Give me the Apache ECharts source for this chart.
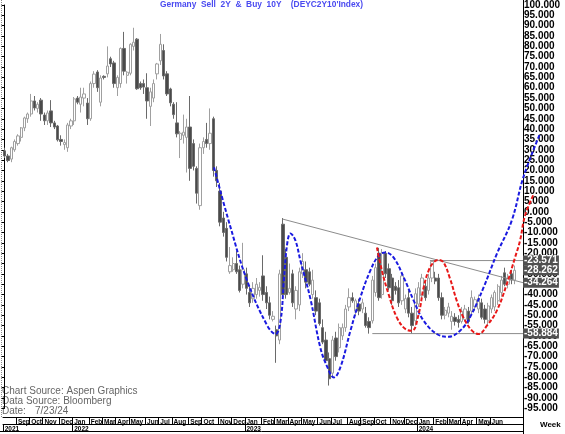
<!DOCTYPE html>
<html>
<head>
<meta charset="utf-8">
<script src="https://cdn.jsdelivr.net/npm/echarts@6/dist/echarts.min.js"></script>
<style>
html,body{margin:0;padding:0;background:#fff}
#chart{width:565px;height:434px}
</style>
</head>
<body>
<div id="chart"></div>
<script>
// weekly bars, first week = week of 9 Aug 2021, two empty weeks at the end
const firstWeek = Date.UTC(2021, 7, 9)
const weekCount = 157

// [open, high, low, close]
const candles = [
[29.5,31,26,27],[27,28,24,24.8],[25.5,31.5,24,31],[30,35,29,34],[33,37.5,32,36.7],
[36,41,34,40.6],[40.6,46,39,45.4],[45,48,43,47.3],[47.3,57,46,53.6],[53.6,56,49,50.2],
[50,53,48,52],[54,55,44,47.3],[46.8,48,42,44],[44,49,42,47.8],[48.8,54,41,43],
[43,44,40,41],[41.5,42,34,34.8],[35,37,32,34],[32.5,35,30,33.5],[31,43,29,42],
[41.5,45,40,44],[44,55.5,42,54.6],[55,56,52,53],[52,60,48,55.5],[55,60,51,57],
[52.6,55,42,45],[45,63,44,62],[62,68,60,66.6],[67.6,68.5,58,60],[53,66,51,64.7],
[65.5,66,64,65],[66.7,80,65,70.5],[74,75,70,71.5],[72,73,60,62],[60,66,56,65],
[62,79.5,60,79],[79,87,66,68],[66,68,62,67.5],[67,81.5,66,81],[80,89,78,82],
[83.5,84,59,59.5],[62,63,59,60],[62,64,57,60.3],[60,67,45,53.6],[51,60,41.5,58],
[55,64,53,62],[66.7,72,64,71.5],[73,86,71,81],[78,81,64,65.7],[66.7,68,56,57],
[59.4,60,51,52.7],[52,53,45,47],[43,53,36,37.7],[35,39,26,38],[37,47,33,38.5],
[36,45,19,41],[41,56,15,21],[33,35,20,22],[21,22,4,9],[3,33,1,31],
[31,36,28,34],[35,43,31,33],[33,50,30,38],[45,46,17,20],[20,22,12,15],
[10,14,-7,-5],[-3,0,-12,-10],[-8,-5,-24,-22],[-29,-17,-30,-26],[-28,-22,-29,-25],
[-25,-19,-30,-29],[-28,-26,-39,-38],[-35,-15,-37,-28],[-30,-27,-40,-37],[-39,-36,-46,-44],
[-42,-34,-44,-37],[-40,-32,-42,-35],[-38,-34,-41,-36.5],[-31,-21,-43,-40],[-39,-36,-47,-44],
[-44,-41,-52,-50],[-52,-48,-53,-50.5],[-57,-55,-73,-60],[-62,-28,-64,-30],[-6,-3,-42,-40],
[-22,-18,-42,-40],[-39,-25,-40,-37],[-30,-28,-46,-44],[-47,-36,-52,-38],[-45,-27,-48,-29],
[-30,-20,-32,-24],[-28,-24,-37,-34],[-29,-27,-36,-35],[-40,-28,-42,-33],[-41.5,-38,-50,-48],
[-44,-42,-55,-54],[-56,-52,-64,-63],[-62,-58,-73,-72],[-71,-68,-84,-80.7],[-78,-60,-80,-62],
[-61,-58,-72,-70],[-65.7,-54,-68,-56],[-60,-54,-62,-56],[-56,-45,-58,-47],[-46,-37,-48,-41.5],
[-41.5,-39,-44,-43],[-48,-42,-50,-43],[-44.6,-42,-50,-48],[-47,-42,-49,-44],[-49,-46,-56,-55],
[-53,-51,-58.9,-56],[-52.7,-31,-54,-33],[-39,-25,-41,-27],[-20,-17.4,-43,-41.5],[-40,-18,-42,-20],
[-20,-19,-32,-30],[-27.5,-25,-38,-36.7],[-32,-30,-45,-43],[-36,-34,-40,-38],[-36.7,-33,-46,-44],
[-43,-29,-45,-31],[-47,-40,-49,-42],[-41.5,-38,-51,-49],[-49,-46,-58.9,-55],[-52.7,-37,-55,-39.6],
[-44.6,-34,-46,-36.7],[-40.6,-30,-42,-32],[-36,-33,-43,-41.5],[-38,-30,-40,-32],[-32,-23.57,-34,-24],
[-32,-29,-35,-33.5],[-32,-30,-43,-41.5],[-41.5,-39,-52,-50],[-50,-46,-52,-47.6],[-49,-44,-51,-46],
[-53,-48,-57,-50.5],[-51,-49,-55,-53],[-52,-50,-56,-53.5],[-53,-46,-54,-48],[-52,-45,-53,-47],
[-48,-46,-54,-53],[-48,-38,-50,-41.5],[-46,-41,-48,-42.5],[-47,-40,-49,-42],[-44,-42,-52,-51],
[-47,-45,-54,-52],[-52.7,-44,-55,-45.5],[-47,-40,-49,-41.5],[-46,-38,-48,-39],[-43,-35,-45,-36],
[-39,-31,-41,-33],[-29.5,-27,-36,-35],[-35,-30,-37,-32],[-30,-28,-35,-33],[-33,-26,-35,-28.262]
]

// hand drawn cycles, [week index, value]
const blueCycle = [
[63.2,21.4],[68.2,-7.6],[73.2,-33.3],[79.3,-55.1],[81.8,-59.1],[83.3,-52.7],[84.3,-33.3],
[85.3,-15.6],[86.3,-10.5],[87.8,-14],[89.3,-23.7],[92.3,-42],[95.3,-65.6],[97.4,-75],
[99.4,-80.1],[101.4,-75],[104.4,-57.5],[107.4,-41.4],[110.4,-28.5],[112.9,-21.3],[114.9,-19.7],
[117.4,-22.1],[120.5,-31.8],[123.5,-43],[126.5,-52.7],[130.5,-59.1],[134,-60.4],[137.5,-57.5],
[140.5,-51],[144.6,-36.6],[148.6,-20.4],[153.1,-4.3],[156.6,16.6],[161.6,37.5]
]
const redCycle = [
[112.4,-17.3],[113.9,-28.5],[115.9,-39.8],[118.4,-51.1],[121,-56.7],[123,-57.5],[125,-49.4],
[126.5,-36.6],[128,-28.5],[129.5,-24.5],[131,-23.3],[132.5,-24.5],[134.5,-32.5],[136.5,-43],
[138.5,-51.1],[141.1,-57.5],[143.1,-59.1],[145.6,-55.1],[148.6,-47.8],[151.6,-35],[154.1,-22.1],
[155.6,-14],[157.1,-2],[159.6,8]
]
const trendLine = [[83.9,-3.5],[156.5,-34.264]]
const rangeTop = [[128.4,-23.571],[156.5,-23.571]]
const rangeBottom = [[111,-58.884],[156.5,-58.884]]
const priceLabels = [-23.571, -28.262, -34.264, -58.884]

// tick labels of the date strip
const monthTicks = [
[4,'Sep'],[8,'Oct'],[12,'Nov'],[17,'Dec'],[21,'Jan'],[26,'Feb'],[30,'Mar'],[34,'Apr'],[38,'May'],
[43,'Jun'],[47,'Jul'],[51,'Aug'],[56,'Sep'],[60,'Oct'],[65,'Nov'],[69,'Dec'],[73,'Jan'],[78,'Feb'],
[82,'Mar'],[86,'Apr'],[90,'May'],[95,'Jun'],[99,'Jul'],[104,'Aug'],[108,'Sep'],[112,'Oct'],
[117,'Nov'],[121,'Dec'],[125,'Jan'],[130,'Feb'],[134,'Mar'],[138,'Apr'],[143,'May'],[147,'Jun']
]
const yearTicks = [[0,'2021'],[21,'2022'],[73,'2023'],[125,'2024']]

let weeks = []
for (let k = 0; k < weekCount; k++) {
    weeks.push(new Date(firstWeek + k * 7 * 86400000).toISOString().slice(0, 10))
}
const monthMap = new Map(monthTicks)
const yearMap = new Map(yearTicks)

const font = 'Arial, "Liberation Sans", sans-serif'
const chart = echarts.init(document.getElementById('chart'))

// main grid: x 3..523, the wide one (x 3..565) only carries the cycles running past the axis
const plotWidth = 520, wideWidth = 562
const wideMax = -0.5 + weekCount * wideWidth / plotWidth

function overlay(data, color, width, dashed, smooth, axis) {
    return {
        type: 'line', xAxisIndex: axis, yAxisIndex: axis === 3 ? 1 : 0, data: data,
        symbol: 'none', smooth: smooth, silent: true,
        lineStyle: {color: color, width: width, type: dashed ? [4, 2] : 'solid'},
        z: 4
    }
}

// date strip axis (months or years row)
function dateAxis(offset, map) {
    return {
        type: 'category', data: weeks, boundaryGap: true,
        position: 'bottom', offset: offset,
        axisLine: {show: true, onZero: false, lineStyle: {color: '#000', width: 1}},
        axisTick: {show: true, length: 7, interval: i => map.has(i), lineStyle: {color: '#000'}},
        axisLabel: {
            interval: i => map.has(i),
            formatter: (v, i) => map.get(i) || '',
            align: 'left', margin: 1, color: '#000',
            fontFamily: font, fontSize: 6.5, fontWeight: 'bold'
        },
        splitLine: {show: false}
    }
}

let trend = overlay(trendLine, '#8c8c8c', 1, false, false, 2)
trend.markLine = {
    symbol: 'none', silent: true, precision: 3,
    lineStyle: {color: 'rgba(0,0,0,0)', width: 0},
    label: {
        show: true, position: 'end', distance: 0,
        formatter: p => priceLabels[p.dataIndex].toFixed(3),
        color: '#fff', backgroundColor: '#505050',
        fontFamily: font, fontSize: 10, fontWeight: 'bold',
        padding: [0, 1, 0, 1], lineHeight: 10
    },
    data: priceLabels.map(v => ({yAxis: v}))
}

chart.setOption({
    animation: false,
    backgroundColor: '#fff',
    title: {
        text: "Germany  Sell  2Y  &  Buy  10Y    (DEYC2Y10'Index)",
        left: 160, top: 0.5, padding: 0,
        textStyle: {color: '#4a4af0', fontSize: 8.4, fontWeight: 'bold', fontFamily: font}
    },
    grid: [
        {left: 3, right: 565 - 3 - plotWidth, top: 4.7, bottom: 25.7},
        {left: 3, right: 565 - 3 - wideWidth, top: 4.7, bottom: 25.7}
    ],
    xAxis: [
        dateAxis(9, monthMap),
        dateAxis(16, yearMap),
        {type: 'value', min: -0.5, max: weekCount - 0.5, show: false},
        {type: 'value', gridIndex: 1, min: -0.5, max: wideMax, show: false}
    ],
    yAxis: [
        {
            type: 'value', position: 'right', min: -95, max: 100, interval: 5,
            axisLine: {show: true, lineStyle: {color: '#000'}},
            axisTick: {show: true, inside: true, length: 3, lineStyle: {color: '#000'}},
            axisLabel: {
                formatter: v => v.toFixed(3), margin: 1, color: '#000',
                fontFamily: font, fontSize: 10, fontWeight: 'bold'
            },
            splitLine: {show: false}
        },
        {type: 'value', gridIndex: 1, min: -95, max: 100, show: false}
    ],
    series: [
        {
            type: 'candlestick', xAxisIndex: 0, yAxisIndex: 0,
            data: candles.map(c => [c[0], c[3], c[2], c[1]]),
            barWidth: 2.8,
            itemStyle: {
                color: '#fff', borderColor: '#a0a0a0',
                color0: '#4a4a4a', borderColor0: '#6a6a6a',
                borderWidth: 1
            },
            z: 2
        },
        trend,
        overlay(rangeTop, '#8c8c8c', 1, false, false, 2),
        overlay(rangeBottom, '#8c8c8c', 1, false, false, 2),
        overlay(blueCycle, '#1a1ae0', 2, true, 0.4, 3),
        overlay(redCycle, '#e81818', 2, true, 0.4, 3)
    ],
    graphic: [
        {type: 'line', shape: {x1: 1.5, y1: 0, x2: 1.5, y2: 417}, style: {stroke: '#888', lineDash: [1, 1]}, silent: true},
        {type: 'line', shape: {x1: 523.5, y1: 0, x2: 523.5, y2: 434}, style: {stroke: '#000'}, silent: true},
        {type: 'line', shape: {x1: 0, y1: 431.5, x2: 523, y2: 431.5}, style: {stroke: '#000'}, silent: true},
        {type: 'text', left: 2, top: 386, silent: true,
         style: {text: 'Chart Source: Aspen Graphics\nData Source: Bloomberg\nDate:', fill: '#666', font: '10px ' + font, lineHeight: 10}},
        {type: 'text', left: 35, top: 406, silent: true,
         style: {text: '7/23/24', fill: '#666', font: '10px ' + font}},
        {type: 'text', left: 540, top: 421, silent: true,
         style: {text: 'Week', fill: '#000', font: 'bold 8px ' + font}}
    ]
})
</script>
</body>
</html>
